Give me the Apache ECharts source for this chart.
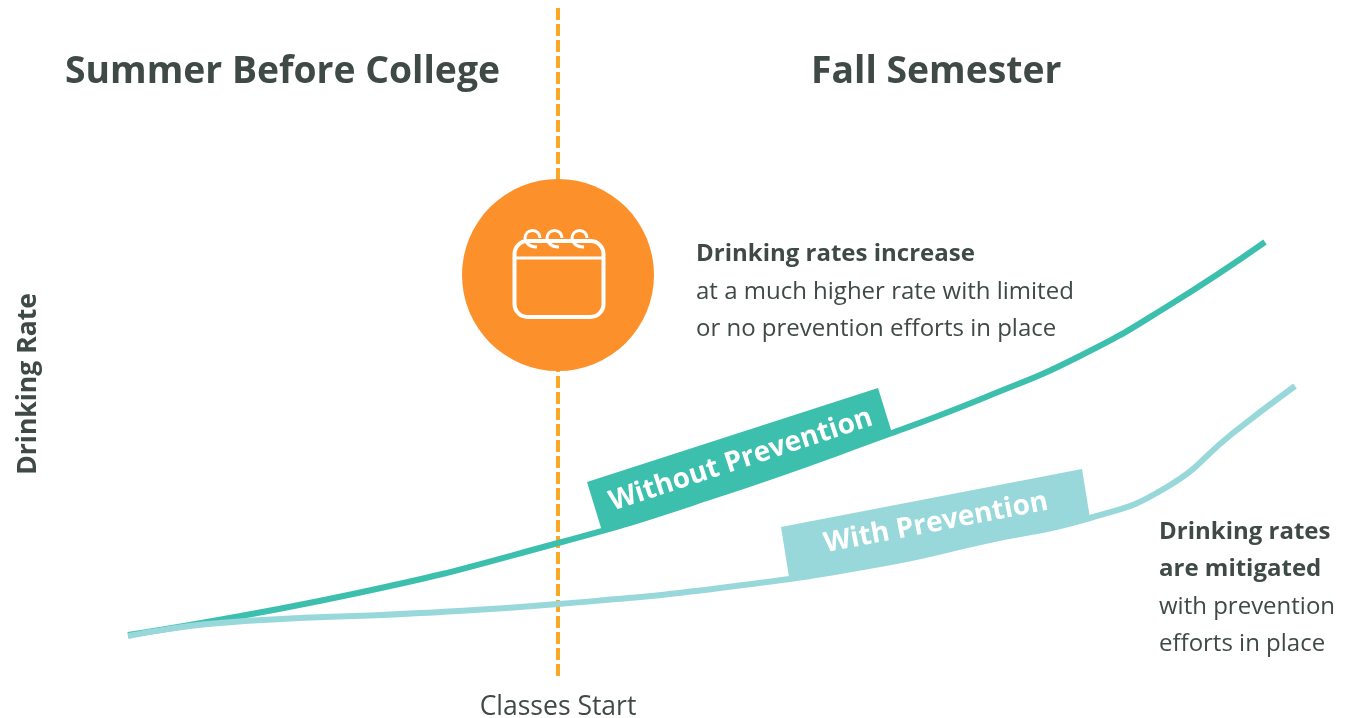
<!DOCTYPE html>
<html>
<head>
<meta charset="utf-8">
<title>Drinking Rate</title>
<script src="https://cdn.jsdelivr.net/npm/echarts@6/dist/echarts.min.js"></script>
<style>
  html, body { margin: 0; padding: 0; background: #fff; }
  #chart { width: 1359px; height: 718px; }
</style>
</head>
<body>
<div id="chart"></div>
<script>
// values, x = time since start of summer, y = drinking rate
var withoutPrevention = [[0, 45], [225, 86], [430, 137], [579, 182], [764, 247], [858, 283], [952, 324], [1040, 374], [1137, 438]]
var withPrevention = [[0, 44], [92, 57], [292, 67], [430, 76], [592, 92], [752, 116], [857, 139], [962, 162], [1039, 193], [1105, 247], [1167, 294]]
var classesStart = 430
var classesStartLine = [[classesStart, 672], [classesStart, 0]]
var classesStartMarker = [[classesStart, 405]]
var xLabels = ['Classes Start']
var yLabel = 'Drinking Rate'
var periodNames = ['Summer Before College', 'Fall Semester']
var seriesNames = ['Without Prevention', 'With Prevention']

var textColor = '#3f4a47'
var fontName = '"Open Sans", sans-serif'

// ribbon shape sitting on a curve
function ribbon (corners, color, label, angle, center) {
  return {
    type: 'custom',
    coordinateSystem: 'cartesian2d',
    data: [0],
    silent: true,
    z: 5,
    renderItem: function (params, api) {
      var pts = corners.map(function (c) { return api.coord(c) })
      var mid = api.coord(center)
      return {
        type: 'group',
        children: [
          { type: 'polygon', shape: { points: pts }, style: { fill: color } },
          {
            type: 'text',
            x: mid[0],
            y: mid[1],
            rotation: angle * Math.PI / 180,
            style: { text: label, fill: '#fff', font: 'bold 28px ' + fontName, align: 'center', verticalAlign: 'middle' }
          }
        ]
      }
    }
  }
}

// one coil of the calendar binding, dx is the offset from the circle centre
function coil (dx) {
  return {
    type: 'path',
    shape: {
      pathData: 'M' + (dx + 7) + ' -37 A7.5 7.5 0 1 0 ' + (dx - 6) + ' -32 Q' + (dx - 3) + ' -28 ' + (dx + 4) + ' -28'
    },
    style: { fill: 'none', stroke: '#fff', lineWidth: 3 }
  }
}

function textBlock (left, top, lines) {
  return lines.map(function (l, i) {
    return {
      type: 'text',
      left: left,
      top: top + i * 37.5,
      style: { text: l.text, fill: textColor, font: (l.bold ? 'bold ' : '') + '24px ' + fontName }
    }
  })
}

var chart = echarts.init(document.getElementById('chart'), null, { renderer: 'canvas' })
chart.setOption({
  animation: false,
  backgroundColor: '#fff',
  grid: { left: 128, right: 63, top: 8, bottom: 38, outerBoundsMode: 'none' },
  xAxis: {
    type: 'value',
    min: 0,
    max: 1168,
    splitLine: { show: false },
    axisLine: { show: false },
    axisTick: { show: false },
    axisLabel: {
      customValues: [classesStart],
      formatter: function () { return xLabels[0] },
      color: textColor,
      fontFamily: fontName,
      fontSize: 26.5,
      margin: 14
    }
  },
  yAxis: {
    type: 'value',
    min: 0,
    max: 672,
    splitLine: { show: false },
    axisLine: { show: false },
    axisTick: { show: false },
    axisLabel: { show: false },
    name: yLabel,
    nameLocation: 'middle',
    nameGap: 86,
    nameRotate: 90,
    nameTextStyle: { color: textColor, fontFamily: fontName, fontSize: 26.5, fontWeight: 'bold', padding: [0, 80, 0, 0] }
  },
  series: [
    {
      name: 'Classes Start',
      type: 'line',
      data: classesStartLine,
      symbol: 'none',
      silent: true,
      z: 1,
      lineStyle: { color: '#fba826', width: 4, type: [12, 4] }
    },
    {
      name: seriesNames[0],
      type: 'line',
      data: withoutPrevention,
      smooth: 0.5,
      symbol: 'none',
      silent: true,
      z: 3,
      lineStyle: { color: '#3dbfad', width: 6, cap: 'butt' }
    },
    {
      name: seriesNames[1],
      type: 'line',
      data: withPrevention,
      smooth: 0.5,
      symbol: 'none',
      silent: true,
      z: 4,
      lineStyle: { color: '#98d8da', width: 6, cap: 'butt' }
    },
    {
      type: 'scatter',
      data: classesStartMarker,
      symbol: 'circle',
      symbolSize: 192,
      silent: true,
      z: 6,
      itemStyle: { color: '#fc912c', opacity: 1 }
    },
    {
      // calendar icon on the marker
      type: 'custom',
      coordinateSystem: 'cartesian2d',
      data: classesStartMarker,
      silent: true,
      z: 7,
      renderItem: function (params, api) {
        var c = api.coord([api.value(0), api.value(1)])
        return {
          type: 'group',
          x: c[0],
          y: c[1],
          children: [
            { type: 'rect', shape: { x: -43.5, y: -34, width: 89, height: 76, r: 13 }, style: { fill: 'none', stroke: '#fff', lineWidth: 4 } },
            { type: 'line', shape: { x1: -44, y1: -17, x2: 46, y2: -17 }, style: { stroke: '#fff', lineWidth: 3 } },
            coil(-25),
            coil(-3),
            coil(22)
          ]
        }
      }
    },
    ribbon([[459, 198], [750, 292], [764, 247], [672, 213.5], [579, 182], [474, 149]], '#3dbfad', seriesNames[0], 18.2, [613, 220]),
    ribbon([[653, 153], [954, 211], [962, 162], [857, 139], [752, 116], [661, 103]], '#98d8da', seriesNames[1], 10.9, [808, 157])
  ],
  graphic: {
    elements: [
      { type: 'text', left: 65, top: 54, z: 10, style: { text: periodNames[0], fill: textColor, font: 'bold 37.3px ' + fontName } },
      { type: 'text', left: 811, top: 54, z: 10, style: { text: periodNames[1], fill: textColor, font: 'bold 37.3px ' + fontName } }
    ].concat(textBlock(696, 242.5, [
      { text: 'Drinking rates increase', bold: true },
      { text: 'at a much higher rate with limited' },
      { text: 'or no prevention efforts in place' }
    ])).concat(textBlock(1159, 520, [
      { text: 'Drinking rates', bold: true },
      { text: 'are mitigated', bold: true },
      { text: 'with prevention' },
      { text: 'efforts in place' }
    ]))
  }
})
</script>
</body>
</html>
